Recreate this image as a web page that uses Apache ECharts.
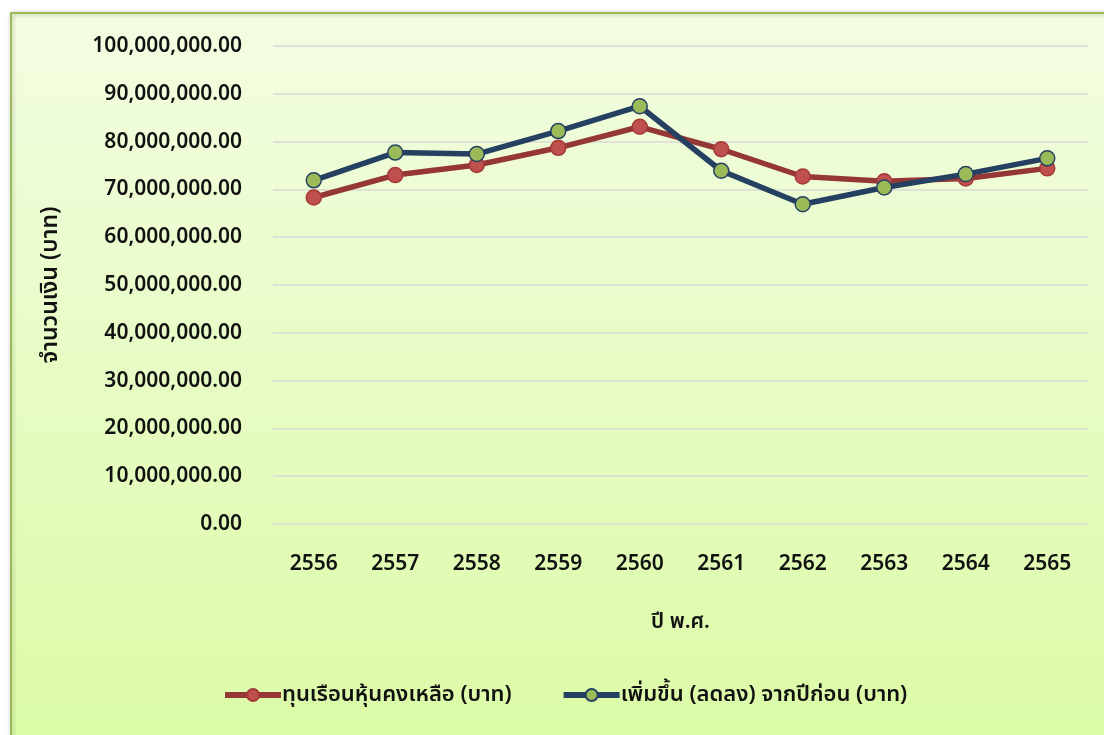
<!DOCTYPE html>
<html>
<head>
<meta charset="utf-8">
<script src="https://cdn.jsdelivr.net/npm/echarts@6/dist/echarts.min.js"></script>
<style>
html,body{margin:0;padding:0;background:#ffffff;}
#chart{width:1104px;height:735px;}
</style>
</head>
<body>
<div id="chart"></div>
<script>
const categories = ['2556','2557','2558','2559','2560','2561','2562','2563','2564','2565'];
const remainingCapital = [68.3, 73.0, 75.1, 78.7, 83.1, 78.4, 72.7, 71.7, 72.3, 74.4].map(v => v * 1e6);
const changeFromPrev = [71.9, 77.7, 77.4, 82.2, 87.4, 73.9, 66.9, 70.4, 73.2, 76.5].map(v => v * 1e6);
const seriesNames = ['ทุนเรือนหุ้นคงเหลือ (บาท)', 'เพิ่มขึ้น (ลดลง) จากปีก่อน (บาท)'];
const yAxisName = 'จำนวนเงิน (บาท)';
const xAxisName = 'ปี พ.ศ.';

const FONT = "'Noto Sans', Tahoma, 'Noto Sans Thai', sans-serif";
const COLOR = '#111111';
const WEIGHT = 600;
function fmt(v){
  return Number(v).toLocaleString('en-US',{minimumFractionDigits:2, maximumFractionDigits:2});
}
const chart = echarts.init(document.getElementById('chart'), null, {renderer:'canvas'});
chart.setOption({
  animation:false,
  backgroundColor:'#ffffff',
  textStyle:{fontFamily:FONT},
  graphic:[{
    type:'rect', z:-10, silent:true,
    shape:{x:11, y:13, width:1100, height:730},
    style:{
      fill:new echarts.graphic.LinearGradient(0,0,0,1,[{offset:0,color:'#f3fde2'},{offset:1,color:'#dbfba6'}]),
      stroke:'#9bbb59', lineWidth:2,
      shadowColor:'rgba(0,0,0,0.25)', shadowBlur:4, shadowOffsetX:1, shadowOffsetY:1
    }
  }],
  grid:{left:273, right:16, top:46, bottom:211, containLabel:false},
  legend:{
    top:684, left:222, padding:0, itemGap:49, itemWidth:56, itemHeight:15,
    lineStyle:{width:6},
    textStyle:{fontFamily:FONT, fontSize:22, fontWeight:WEIGHT, color:COLOR, padding:[0,0,0,-4]},
    data:seriesNames
  },
  xAxis:{
    type:'category', data:categories, boundaryGap:true,
    axisLine:{show:false}, axisTick:{show:false},
    axisLabel:{fontFamily:FONT, fontSize:21, fontWeight:WEIGHT, color:COLOR, margin:30},
    name:xAxisName, nameLocation:'middle', nameGap:88,
    nameTextStyle:{fontFamily:FONT, fontSize:21, fontWeight:WEIGHT, color:COLOR}
  },
  yAxis:{
    type:'value', min:0, max:100000000, interval:10000000,
    axisLine:{show:false}, axisTick:{show:false},
    splitLine:{lineStyle:{color:'#d9d9d9', width:1.5}},
    axisLabel:{fontFamily:FONT, fontSize:21, fontWeight:WEIGHT, color:COLOR, margin:31, formatter:fmt},
    name:yAxisName, nameLocation:'middle', nameGap:211, nameRotate:90,
    nameTextStyle:{fontFamily:FONT, fontSize:23, fontWeight:WEIGHT, color:COLOR}
  },
  series:[
    {
      name:seriesNames[0], type:'line', data:remainingCapital,
      symbol:'circle', symbolSize:15,
      lineStyle:{color:'#953735', width:5.5},
      itemStyle:{color:'#c0504d', borderColor:'#a33a37', borderWidth:1.5},
      z:2
    },
    {
      name:seriesNames[1], type:'line', data:changeFromPrev,
      symbol:'circle', symbolSize:15,
      lineStyle:{color:'#254061', width:5.5},
      itemStyle:{color:'#9bbb59', borderColor:'#254061', borderWidth:1.5},
      z:3
    }
  ]
});
</script>
</body>
</html>
